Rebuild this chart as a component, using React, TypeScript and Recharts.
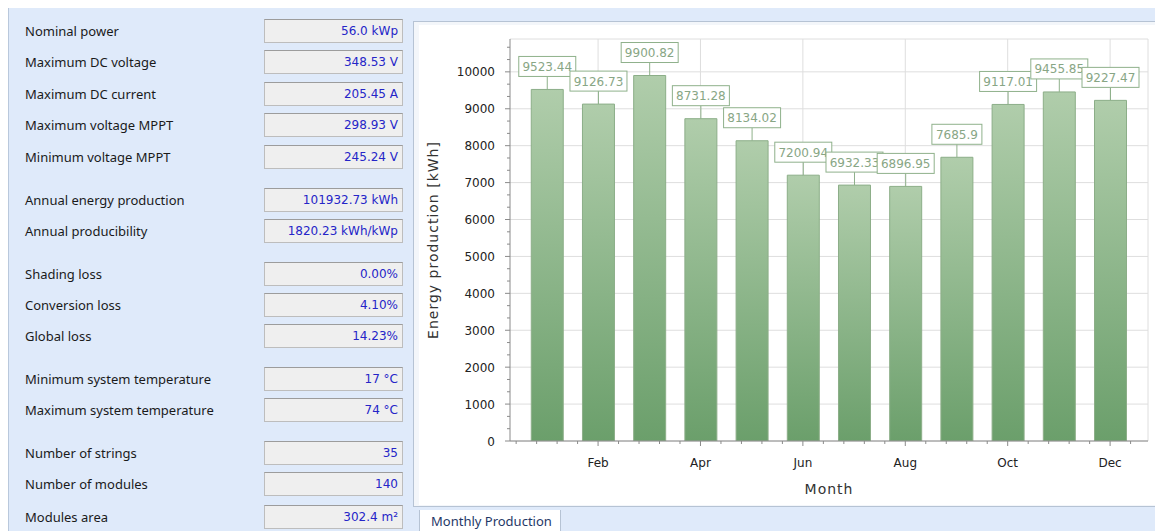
import { BarChart, Bar, XAxis, YAxis, CartesianGrid, LabelList } from 'recharts';

const months = ['Jan', 'Feb', 'Mar', 'Apr', 'May', 'Jun', 'Jul', 'Aug', 'Sep', 'Oct', 'Nov', 'Dec'];
const production = [9523.44, 9126.73, 9900.82, 8731.28, 8134.02, 7200.94, 6932.33, 6896.95, 7685.9, 9117.01, 9455.85, 9227.47];

const yMajorTicks = [0, 1000, 2000, 3000, 4000, 5000, 6000, 7000, 8000, 9000, 10000];
const xMajorTicks = [2, 4, 6, 8, 10, 12];

const infoLabels = [
  'Nominal power', 'Maximum DC voltage', 'Maximum DC current', 'Maximum voltage MPPT', 'Minimum voltage MPPT',
  'Annual energy production', 'Annual producibility',
  'Shading loss', 'Conversion loss', 'Global loss',
  'Minimum system temperature', 'Maximum system temperature',
  'Number of strings', 'Number of modules', 'Modules area',
];
const infoValues = [
  '56.0 kWp', '348.53 V', '205.45 A', '298.93 V', '245.24 V',
  '101932.73 kWh', '1820.23 kWh/kWp',
  '0.00%', '4.10%', '14.23%',
  '17 °C', '74 °C',
  '35', '140', '302.4 m²',
];
const infoRowY = [31, 62, 94, 125, 157, 200, 231, 274, 305, 336, 379, 410, 453, 484, 517];

const data = months.map((m, i) => ({ m: i + 1, name: m, value: production[i] }));

const X_DOMAIN: [number, number] = [0.28, 12.74];
const Y_MAX = 10890;

// minor ticks: 5 steps per major on x, 3 per major on y
const xTicks = Array.from({ length: 31 }, (_, k) => ((k + 1) * 4) / 10);
const yTicks = Array.from({ length: 33 }, (_, k) => (k * 1000) / 3);

const FONT = '"DejaVu Sans", sans-serif';
const AXIS = '#8a8a8a';

function XTick(props: any) {
  const { x, y, payload } = props;
  const v = payload.value;
  const major = xMajorTicks.some((t) => Math.abs(t - v) < 1e-6);
  return (
    <g>
      <line x1={x} x2={x} y1={y} y2={y + (major ? 5 : 3)} stroke={AXIS} />
      {major && (
        <text x={x} y={y + 26} textAnchor="middle" fontSize={12} fill="#222" fontFamily={FONT}>
          {months[Math.round(v) - 1]}
        </text>
      )}
    </g>
  );
}

function YTick(props: any) {
  const { x, y, payload } = props;
  const v = payload.value;
  const major = yMajorTicks.some((t) => Math.abs(t - v) < 1e-6);
  return (
    <g>
      <line x1={x} x2={x - (major ? 5 : 3)} y1={y} y2={y} stroke={AXIS} />
      {major && (
        <text x={x - 15} y={y + 4.5} textAnchor="end" fontSize={12} fill="#222" fontFamily={FONT}>
          {Math.round(v)}
        </text>
      )}
    </g>
  );
}

function ValueTag(props: any) {
  const { x, y, width, value } = props;
  const txt = String(value);
  const w = txt.length * 7 + 8;
  const cx = x + width / 2;
  const bottom = y - 13;
  return (
    <g>
      <line x1={cx} x2={cx} y1={y} y2={bottom} stroke="#8fb18b" />
      <rect x={cx - w / 2} y={bottom - 20} width={w} height={20} fill="#fff" stroke="#8fb18b" />
      <text x={cx} y={bottom - 5.5} textAnchor="middle" fontSize={12} fill="#88a685" fontFamily={FONT}>
        {txt}
      </text>
    </g>
  );
}

export default function App() {
  return (
    <div style={{ position: 'relative', width: 1155, height: 523, background: '#dfeafa', borderLeft: '1px solid #b9c8dc', boxSizing: 'border-box', overflow: 'hidden', fontFamily: '"Noto Sans", sans-serif' }}>
      {infoLabels.map((label, i) => (
        <div key={label}>
          <div style={{ position: 'absolute', left: 16, top: infoRowY[i] - 8 - 10, height: 20, lineHeight: '20px', fontSize: 13, color: '#1a1a1a' }}>
            {label}
          </div>
          <div
            style={{
              position: 'absolute', left: 255, top: infoRowY[i] - 8 - 12, width: 139, height: 24, boxSizing: 'border-box',
              background: '#efefef', border: '1px solid #bdbdbd', borderTopColor: '#9c9c9c',
              textAlign: 'right', paddingRight: 4, lineHeight: '22px', fontSize: 12, color: '#2525c8', fontFamily: FONT,
            }}
          >
            {infoValues[i]}
          </div>
        </div>
      ))}

      <div style={{ position: 'absolute', left: 404, top: 13, width: 748, height: 486, boxSizing: 'border-box', border: '1px solid #b6c3d4', background: '#f3f6fa' }}>
        <div style={{ position: 'absolute', left: 5, top: 3, width: 740, height: 480, background: '#fff' }}>
          <BarChart width={740} height={480} data={data} margin={{ top: 14, right: 11, bottom: 0, left: 0 }}>
            <defs>
              <linearGradient id="barFill" x1="0" y1="0" x2="0" y2="1">
                <stop offset="0%" stopColor="#b0cdab" />
                <stop offset="100%" stopColor="#6b9f6b" />
              </linearGradient>
            </defs>
            <CartesianGrid
              stroke="#dedede"
              horizontalValues={[...yMajorTicks, Y_MAX]}
              verticalValues={[...xMajorTicks, X_DOMAIN[1]]}
            />
            <XAxis
              dataKey="m"
              type="number"
              domain={X_DOMAIN}
              ticks={xTicks}
              interval={0}
              allowDataOverflow
              height={64}
              stroke={AXIS}
              tickLine={false}
              tickSize={0}
              tickMargin={0}
              tick={<XTick />}
              label={{ value: 'Month', position: 'insideBottom', offset: 11, fontSize: 14, fill: '#333', fontFamily: FONT, letterSpacing: 1 }}
            />
            <YAxis
              type="number"
              domain={[0, Y_MAX]}
              ticks={yTicks}
              interval={0}
              allowDataOverflow
              width={91}
              stroke={AXIS}
              tickLine={false}
              tickSize={0}
              tickMargin={0}
              tick={<YTick />}
              label={{ value: 'Energy production [kWh]', angle: -90, position: 'insideLeft', offset: 14, fontSize: 14, fill: '#333', fontFamily: FONT, letterSpacing: 1, style: { textAnchor: 'middle' } }}
            />
            <Bar dataKey="value" barSize={32} fill="url(#barFill)" stroke="#8cae88" isAnimationActive={false}>
              <LabelList dataKey="value" content={<ValueTag />} />
            </Bar>
          </BarChart>
        </div>
      </div>

      <div style={{ position: 'absolute', left: 410, top: 502, width: 142, height: 30, boxSizing: 'border-box', background: '#fff', border: '1px solid #b6c3d4', borderTop: 'none', fontSize: 13, lineHeight: '17px', color: '#1f3867', paddingLeft: 11, paddingTop: 3 }}>
        Monthly Production
      </div>
    </div>
  );
}
